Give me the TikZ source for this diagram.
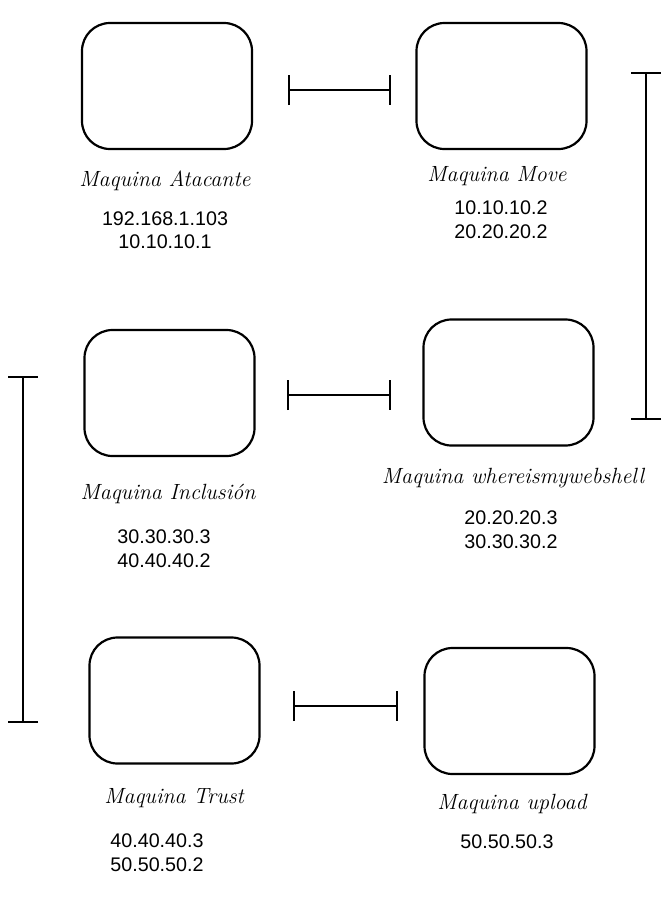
\documentclass[tikz,border=0pt]{standalone}
\usepackage{fontspec}
\newfontfamily\ipfont{Liberation Sans}
\usetikzlibrary{arrows.meta}

\begin{document}
\begin{tikzpicture}[x=1pt,y=-1pt,
	maq/.style={draw,line width=2.2pt,rounded corners=28pt,minimum width=170pt,minimum height=126pt},
	hand/.style={font=\fontsize{22}{24}\selectfont\itshape},
	ip/.style={font=\ipfont\fontsize{19.7}{23.5}\selectfont,align=center},
	link/.style={line width=2.2pt,{Bar[width=30pt,line width=2.2pt]}-{Bar[width=30pt,line width=2.2pt]}}]
	\useasboundingbox (0,0) rectangle (669,898);
	\path (167,86) node[maq] (atacante) {}
	(501.5,86) node[maq] (move) {}
	(169.5,393) node[maq] (inclusion) {}
	(508.5,382.5) node[maq] (webshell) {}
	(174.5,700.5) node[maq] (trust) {}
	(509.5,711) node[maq] (upload) {};
	% nombres
	\path (165,181) node[hand] (atacanteN) {Maquina Atacante}
	(497,176) node[hand] (moveN) {Maquina Move}
	(168,494) node[hand] (inclusionN) {Maquina Inclusión}
	(513,478) node[hand] (webshellN) {Maquina whereismywebshell}
	(174,798) node[hand] (trustN) {Maquina Trust}
	(512,804) node[hand] (uploadN) {Maquina upload};
	% direcciones
	\path (165,230) node[ip] (atacanteIP) {192.168.1.103\\10.10.10.1}
	(501,219.5) node[ip] (moveIP) {10.10.10.2\\20.20.20.2}
	(164,548.5) node[ip] (inclusionIP) {30.30.30.3\\40.40.40.2}
	(511,529.5) node[ip] (webshellIP) {20.20.20.3\\30.30.30.2}
	(157,852.5) node[ip] (trustIP) {40.40.40.3\\50.50.50.2}
	(507,842) node[ip] (uploadIP) {50.50.50.3};
	% enlaces
	\coordinate (l1a) at (288,90);
	\coordinate (l1b) at (391,90);
	\coordinate (l2a) at (287,395);
	\coordinate (l2b) at (391,395);
	\coordinate (l3a) at (293,706);
	\coordinate (l3b) at (398,706);
	\coordinate (v1a) at (646,72);
	\coordinate (v1b) at (646,420);
	\coordinate (v2a) at (23,376);
	\coordinate (v2b) at (23,723);
	\draw[link] (l1a) -- (l1b);
	\draw[link] (l2a) -- (l2b);
	\draw[link] (l3a) -- (l3b);
	\draw[link] (v1a) -- (v1b);
	\draw[link] (v2a) -- (v2b);
\end{tikzpicture}
\end{document}
